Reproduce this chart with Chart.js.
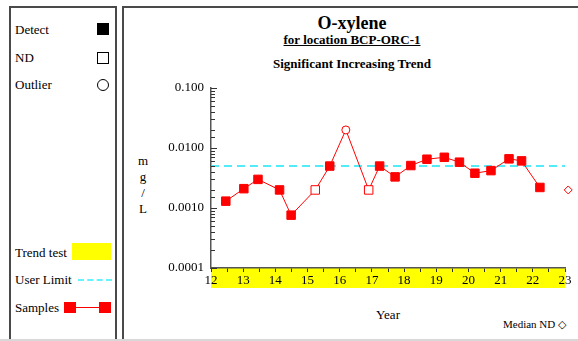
<!DOCTYPE html>
<html><head><meta charset="utf-8">
<script src="https://cdn.jsdelivr.net/npm/chart.js@4/dist/chart.umd.min.js"></script>
<style>
html,body{margin:0;padding:0;background:#fff;}
body{width:578px;height:341px;position:relative;overflow:hidden;font-family:"Liberation Serif","Times New Roman",serif;color:#000;}
.abs{position:absolute;white-space:nowrap;}
#lp{position:absolute;left:9px;top:6px;width:104px;height:340px;border:2px solid #4a4a4a;border-bottom:none;}
#rp{position:absolute;left:122px;top:6px;width:470px;height:340px;border:2px solid #4a4a4a;border-bottom:none;}
#bot{position:absolute;left:0;top:339px;width:578px;height:2px;background:#d8d8d8;}
.t13{font-size:13px;line-height:13px;}
#cv{position:absolute;left:123px;top:7px;}
</style></head>
<body>
<div id="lp"></div><div id="rp"></div><div id="bot"></div>
<!-- legend panel -->
<div class="abs t13" style="left:15px;top:23px;">Detect</div>
<div class="abs" style="left:97px;top:23px;width:12px;height:12px;background:#000;"></div>
<div class="abs t13" style="left:15px;top:51px;">ND</div>
<div class="abs" style="left:97px;top:52px;width:10px;height:10px;border:1px solid #000;"></div>
<div class="abs t13" style="left:15px;top:78px;">Outlier</div>
<div class="abs" style="left:97px;top:79px;width:10px;height:10px;border:1px solid #000;border-radius:50%;"></div>
<div class="abs t13" style="left:15px;top:246px;">Trend test</div>
<div class="abs" style="left:72px;top:243px;width:39px;height:17px;background:#ffff00;"></div>
<div class="abs t13" style="left:15px;top:273px;">User Limit</div>
<div class="abs" style="left:78px;top:279px;width:34px;height:0;border-top:2px dashed #66f2ff;"></div>
<div class="abs t13" style="left:15px;top:301px;">Samples</div>
<div class="abs" style="left:70px;top:307px;width:36px;height:1px;background:#ff0000;"></div>
<div class="abs" style="left:64px;top:302px;width:12px;height:11px;background:#ff0000;"></div>
<div class="abs" style="left:99px;top:302px;width:12px;height:11px;background:#ff0000;"></div>
<!-- titles -->
<div class="abs" style="left:152px;width:400px;text-align:center;top:13px;font-size:18px;line-height:20px;font-weight:bold;">O-xylene</div>
<div class="abs" style="left:152px;width:400px;text-align:center;top:33px;font-size:13px;line-height:14px;font-weight:bold;text-decoration:underline;">for location BCP-ORC-1</div>
<div class="abs" style="left:152px;width:400px;text-align:center;top:57px;font-size:13px;line-height:14px;font-weight:bold;">Significant Increasing Trend</div>
<!-- y axis title stacked -->
<div class="abs t13" style="left:133px;width:20px;text-align:center;top:153px;line-height:16px;white-space:normal;">m<br>g<br>/<br>L</div>
<div class="abs t13" style="left:338px;width:100px;text-align:center;top:308px;">Year</div>
<div class="abs" style="left:480px;width:86px;text-align:right;top:318px;font-size:11px;line-height:12px;">Median ND &#9671;</div>
<canvas id="cv" width="455" height="334"></canvas>
<script>
// ---- data ----
const sampleYears = [12.46, 13.02, 13.46, 14.13, 14.49, 15.24, 15.69, 16.19, 16.90, 17.24, 17.72, 18.21, 18.71, 19.25, 19.72, 20.20, 20.70, 21.26, 21.65, 22.22];
const sampleValues = [0.0013, 0.0021, 0.0030, 0.0020, 0.00076, 0.0020, 0.0050, 0.0200, 0.0020, 0.0050, 0.0033, 0.0051, 0.0065, 0.0070, 0.0058, 0.0038, 0.0042, 0.0066, 0.0061, 0.0022];
const sampleStatus = ['D','D','D','D','D','ND','D','O','ND','D','D','D','D','D','D','D','D','D','D','D'];
const medianNDYear = [23.1];
const medianNDValue = [0.0020];
const userLimit = 0.005;
const xRange = [12, 23];
const yRange = [0.0001, 0.1];
const yTickLabels = {'0.0001':'0.0001','0.001':'0.0010','0.01':'0.0100','0.1':'0.100'};

const RED = '#ff0000';
const FONT = 'Liberation Serif';

const bandPlugin = {
  id: 'band',
  beforeDraw(chart) {
    const ctx = chart.ctx, x = chart.scales.x, a = chart.chartArea;
    ctx.save();
    ctx.fillStyle = '#ffff00';
    ctx.fillRect(x.left, a.bottom, x.right - x.left, 20);
    ctx.restore();
  },
  afterDraw(chart) {
    const ctx = chart.ctx, y = chart.scales.y, a = chart.chartArea;
    ctx.save();
    ctx.strokeStyle = '#333';
    ctx.lineWidth = 1;
    y.ticks.forEach(t => {
      const py = Math.round(y.getPixelForValue(t.value)) + 0.5;
      const lg = Math.log10(t.value);
      const len = Math.abs(lg - Math.round(lg)) < 1e-6 ? 6 : 4;
      ctx.beginPath();
      ctx.moveTo(a.left, py);
      ctx.lineTo(a.left + len, py);
      ctx.stroke();
    });
    ctx.restore();
  }
};

const samplePts = sampleYears.map((x, i) => ({x, y: sampleValues[i]}));
new Chart(document.getElementById('cv'), {
  type: 'scatter',
  data: {
    datasets: [
      {
        data: [{x: xRange[0], y: userLimit}, {x: xRange[1], y: userLimit}],
        showLine: true, borderColor: '#19e6f5', borderWidth: 1.5, borderDash: [8, 5],
        pointRadius: 0, order: 3
      },
      {
        data: samplePts, showLine: true, borderColor: RED, borderWidth: 1,
        pointStyle: ctx => sampleStatus[ctx.dataIndex] === 'O' ? 'circle' : 'rect',
        pointRadius: ctx => sampleStatus[ctx.dataIndex] === 'O' ? 4 : 6,
        pointBackgroundColor: ctx => sampleStatus[ctx.dataIndex] === 'D' ? RED : '#ffffff',
        pointBorderColor: RED, pointBorderWidth: 1, order: 1, clip: false
      },
      {
        data: medianNDYear.map((x, i) => ({x, y: medianNDValue[i]})),
        pointStyle: 'rectRot', pointRadius: 4, pointBackgroundColor: '#ffffff',
        pointBorderColor: RED, pointBorderWidth: 1, clip: false, order: 2
      }
    ]
  },
  options: {
    responsive: false, animation: false,
    layout: {padding: {top: 81, right: 13, left: 0, bottom: 0}},
    plugins: {legend: {display: false}, tooltip: {enabled: false}, title: {display: false}},
    scales: {
      x: {
        type: 'linear', min: xRange[0], max: xRange[1],
        afterFit(s) { s.height = 73; },
        ticks: {stepSize: 0.5, autoSkip: false, maxRotation: 0, padding: 1, color: '#000',
          font: {family: FONT, size: 13},
          callback: v => Number.isInteger(v) ? String(v) : ''},
        grid: {display: true, drawOnChartArea: false, drawTicks: true, tickLength: 4, color: '#333', lineWidth: 1},
        border: {display: true, color: '#555', width: 1.5}
      },
      y: {
        type: 'logarithmic', min: yRange[0], max: yRange[1],
        afterFit(s) { s.width = 88; },
        ticks: {autoSkip: false, padding: 7, color: '#000', font: {family: FONT, size: 13},
          callback: v => yTickLabels[String(v)] || ''},
        grid: {display: false, drawTicks: false},
        border: {display: true, color: '#555', width: 1.5}
      }
    }
  },
  plugins: [bandPlugin]
});
</script>
</body></html>
